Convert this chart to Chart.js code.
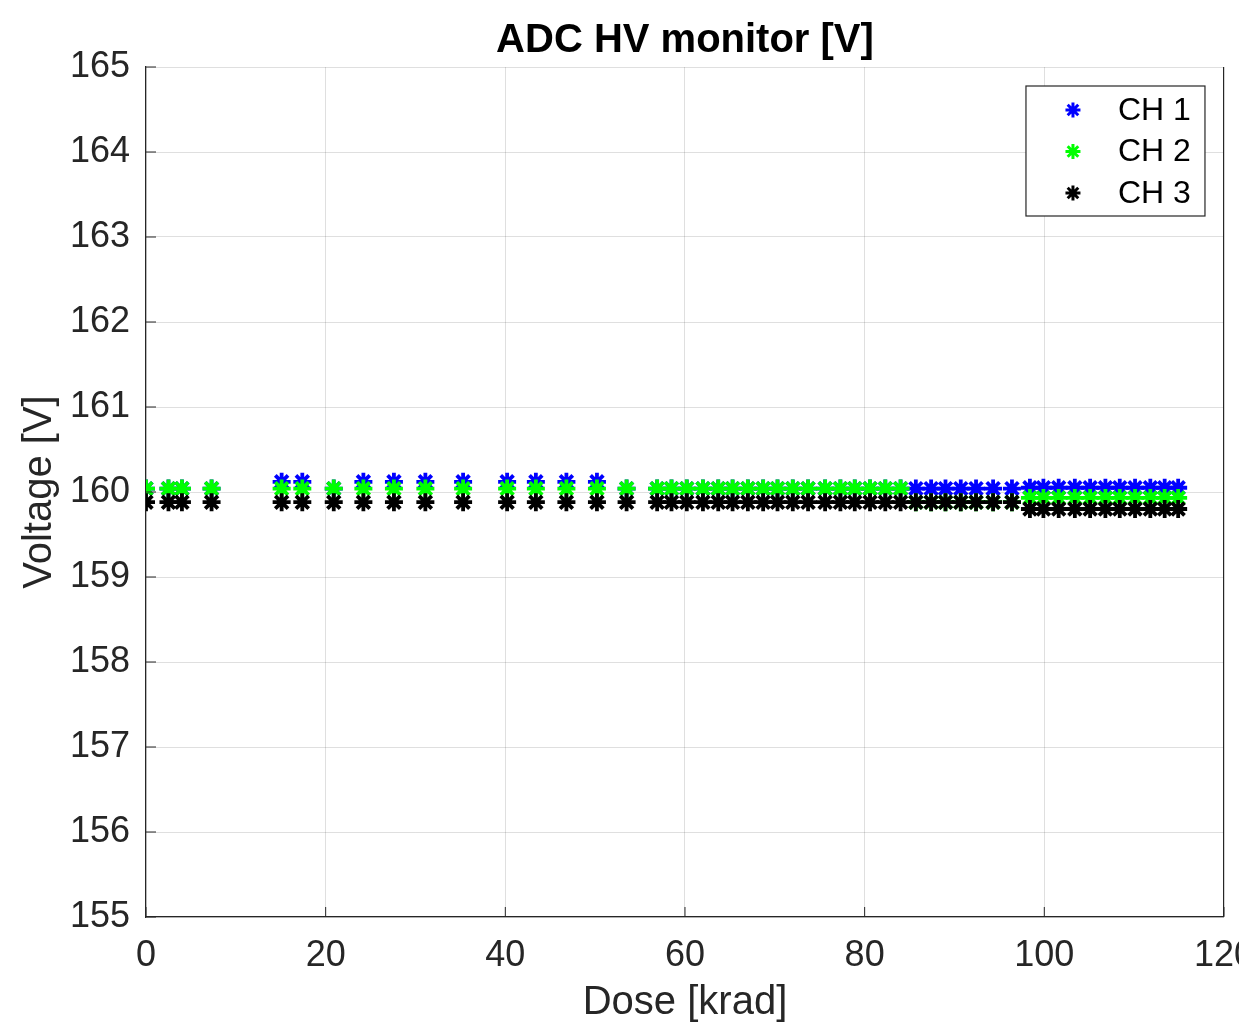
<!DOCTYPE html>
<html>
<head>
<meta charset="utf-8">
<script src="https://cdn.jsdelivr.net/npm/chart.js@4/dist/chart.umd.min.js"></script>
<style>
  html, body { margin: 0; padding: 0; background: #fff; overflow: hidden; }
  #hvChart { display: block; }
</style>
</head>
<body>
<canvas id="hvChart" width="1271" height="1025"></canvas>
<script>
// ドーズ [krad]
var dose = [0, 2.5, 4.0, 7.3, 15.1, 17.4, 20.9, 24.2, 27.6, 31.1, 35.3, 40.2, 43.4, 46.8, 50.2, 53.5,
  56.9, 58.5, 60.2, 62.0, 63.7, 65.3, 67.0, 68.7, 70.3, 72.0, 73.7, 75.6, 77.3, 78.9, 80.6, 82.3, 84.0,
  85.7, 87.4, 89.0, 90.7, 92.4, 94.3, 96.4,
  98.4, 99.9, 101.6, 103.4, 105.1, 106.8, 108.4, 110.1, 111.8, 113.4, 114.9];

// 各チャンネルの電圧 [V]
var ch1 = [160.04, 160.04, 160.04, 160.04, 160.12, 160.12, 160.04, 160.12, 160.12, 160.12, 160.12, 160.12, 160.12, 160.12, 160.12, 160.04,
  160.04, 160.04, 160.04, 160.04, 160.04, 160.04, 160.04, 160.04, 160.04, 160.04, 160.04, 160.04, 160.04, 160.04, 160.04, 160.04, 160.04,
  160.04, 160.04, 160.04, 160.04, 160.04, 160.04, 160.04,
  160.05, 160.05, 160.05, 160.05, 160.05, 160.05, 160.05, 160.05, 160.05, 160.05, 160.05];
var ch2 = [160.04, 160.04, 160.04, 160.04, 160.04, 160.04, 160.04, 160.04, 160.04, 160.04, 160.04, 160.04, 160.04, 160.04, 160.04, 160.04,
  160.04, 160.04, 160.04, 160.04, 160.04, 160.04, 160.04, 160.04, 160.04, 160.04, 160.04, 160.04, 160.04, 160.04, 160.04, 160.04, 160.04,
  159.88, 159.88, 159.88, 159.88, 159.88, 159.88, 159.88,
  159.93, 159.93, 159.93, 159.93, 159.93, 159.93, 159.93, 159.93, 159.93, 159.93, 159.93];
var ch3 = [159.88, 159.88, 159.88, 159.88, 159.88, 159.88, 159.88, 159.88, 159.88, 159.88, 159.88, 159.88, 159.88, 159.88, 159.88, 159.88,
  159.88, 159.88, 159.88, 159.88, 159.88, 159.88, 159.88, 159.88, 159.88, 159.88, 159.88, 159.88, 159.88, 159.88, 159.88, 159.88, 159.88,
  159.88, 159.88, 159.88, 159.88, 159.88, 159.88, 159.88,
  159.80, 159.80, 159.80, 159.80, 159.80, 159.80, 159.80, 159.80, 159.80, 159.80, 159.80];

var seriesNames = ["CH 1", "CH 2", "CH 3"];
var seriesColors = ["#0000ff", "#00ff00", "#000000"];

// 軸の範囲
var xMin = 0, xMax = 120, xStep = 20;
var yMin = 155, yMax = 165, yStep = 1;

function toPoints(ys) {
  return dose.map(function (d, i) { return { x: d, y: ys[i] }; });
}

var FONT = "'Liberation Sans', Arial, Helvetica, sans-serif";
var AXIS = "#262626";

// MATLAB風の内向きティック
var innerTicks = {
  id: 'innerTicks',
  afterDatasetsDraw: function (chart) {
    var c = chart.ctx, a = chart.chartArea;
    var xs = chart.scales.x, ys = chart.scales.y;
    c.save();
    c.strokeStyle = AXIS;
    c.lineWidth = 1;
    xs.ticks.forEach(function (t) {
      var px = xs.getPixelForValue(t.value);
      c.beginPath(); c.moveTo(px, a.bottom); c.lineTo(px, a.bottom - 10); c.stroke();
    });
    ys.ticks.forEach(function (t) {
      var py = ys.getPixelForValue(t.value);
      c.beginPath(); c.moveTo(a.left, py); c.lineTo(a.left + 10, py); c.stroke();
    });
    c.restore();
  }
};

// 凡例（グラフ内右上）
var boxLegend = {
  id: 'boxLegend',
  afterDraw: function (chart) {
    var c = chart.ctx, a = chart.chartArea;
    var w = 179, h = 130;
    var left = a.right - 19 - w, top = a.top + 19;
    c.save();
    c.fillStyle = "#fff";
    c.fillRect(left, top, w, h);
    c.strokeStyle = AXIS;
    c.lineWidth = 1.2;
    c.strokeRect(left, top, w, h);
    c.font = "32px " + FONT;
    c.textBaseline = "middle";
    chart.data.datasets.forEach(function (ds, i) {
      var yy = top + 24 + i * 41.5;
      c.strokeStyle = ds.borderColor;
      c.fillStyle = ds.borderColor;
      c.lineWidth = 3;
      Chart.helpers.drawPoint(c, { pointStyle: 'star', radius: 7.5, borderWidth: 3 }, left + 47, yy);
      c.fillStyle = "#000";
      c.fillText(ds.label, left + 92, yy + 1);
    });
    c.restore();
  }
};

var ctx = document.getElementById("hvChart");
var hvChart = new Chart(ctx, {
  type: 'scatter',
  data: {
    datasets: [
      { label: seriesNames[0], data: toPoints(ch1), borderColor: seriesColors[0], backgroundColor: seriesColors[0], order: 2 },
      { label: seriesNames[1], data: toPoints(ch2), borderColor: seriesColors[1], backgroundColor: seriesColors[1], order: 1 },
      { label: seriesNames[2], data: toPoints(ch3), borderColor: seriesColors[2], backgroundColor: seriesColors[2], order: 0 }
    ]
  },
  options: {
    responsive: false,
    animation: false,
    layout: { padding: 0 },
    elements: {
      point: { pointStyle: 'star', radius: 9, borderWidth: 3.8, hoverRadius: 9 }
    },
    plugins: {
      legend: { display: false },
      tooltip: { enabled: false },
      title: {
        display: true,
        fullSize: false,
        text: "ADC HV monitor [V]",
        color: "#000",
        font: { family: FONT, size: 40, weight: 'bold', lineHeight: 1.2 },
        padding: { top: 17, bottom: 2 }
      }
    },
    scales: {
      x: {
        type: 'linear',
        min: xMin, max: xMax,
        ticks: {
          stepSize: xStep,
          color: AXIS,
          padding: 17,
          font: { family: FONT, size: 36 }
        },
        grid: {
          drawTicks: false,
          color: function (c) { return c.tick && c.tick.value === xMax ? AXIS : 'rgba(38,38,38,0.15)'; },
          lineWidth: function (c) { return c.tick && c.tick.value === xMax ? 1.2 : 1; }
        },
        border: { color: AXIS, width: 1.2 },
        title: {
          display: true,
          text: "Dose [krad]",
          color: AXIS,
          font: { family: FONT, size: 40, lineHeight: 1.1 },
          padding: { top: 0, bottom: 0 }
        },
        afterFit: function (s) { s.height = 108; }
      },
      y: {
        min: yMin, max: yMax,
        ticks: {
          stepSize: yStep,
          color: AXIS,
          padding: 16,
          font: { family: FONT, size: 36 }
        },
        grid: { drawTicks: false, color: 'rgba(38,38,38,0.15)' },
        border: { color: AXIS, width: 1.2 },
        title: {
          display: true,
          text: "Voltage [V]",
          color: AXIS,
          font: { family: FONT, size: 40, lineHeight: 1.1 },
          padding: { top: 18, bottom: 0 }
        },
        afterFit: function (s) { s.width = 146; }
      }
    }
  },
  plugins: [innerTicks, boxLegend]
});
</script>
</body>
</html>
